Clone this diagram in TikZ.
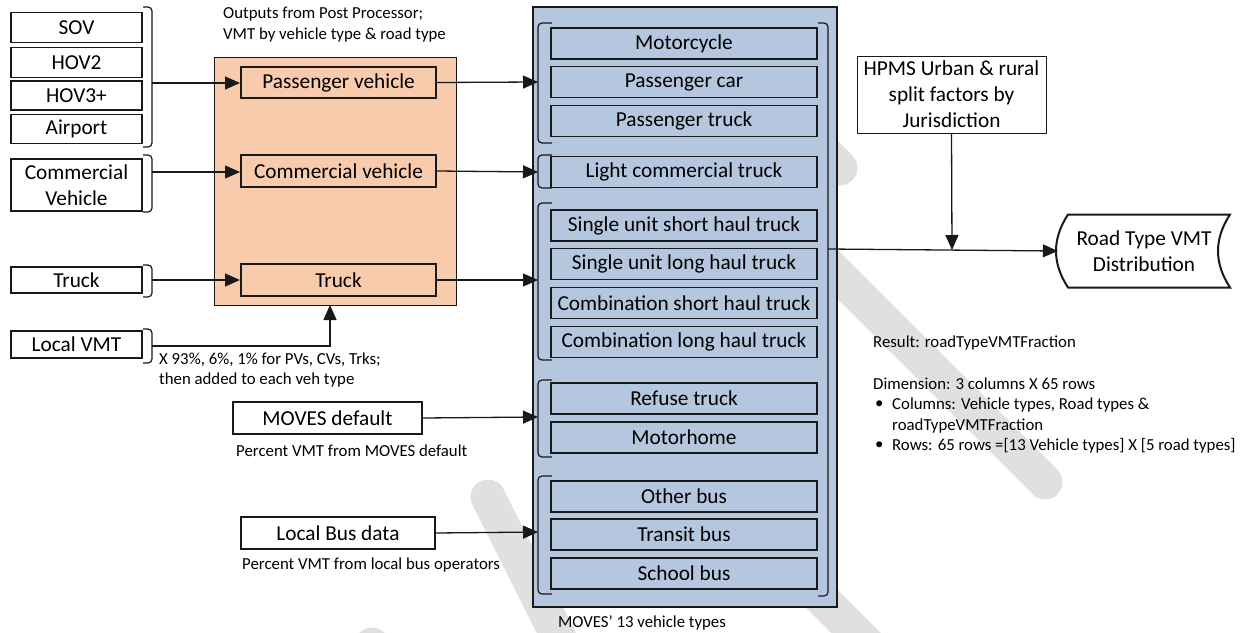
\documentclass[tikz,border=0pt]{standalone}
\usepackage{fontspec}
\setmainfont{Carlito}
\usetikzlibrary{arrows.meta}
\definecolor{peach}{RGB}{248,203,173}
\definecolor{bluefill}{RGB}{180,199,222}
\definecolor{wm}{RGB}{224,224,224}
\definecolor{edge}{RGB}{25,25,25}
\begin{document}
\begin{tikzpicture}[x=1pt,y=-1pt,
  bt/.style={font=\fontsize{21.3}{26}\selectfont},
  st/.style={font=\fontsize{16.8}{20.5}\selectfont, inner sep=0pt},
  lbox/.style={draw=edge, line width=1.2pt, inner sep=0pt, bt, align=center, fill=white},
  tbox/.style={lbox, line width=2pt},
  vbox/.style={lbox, fill=bluefill, minimum width=266pt, minimum height=31pt},
  arr/.style={-{Triangle[length=15pt,width=13pt]}, line width=1.3pt, draw=edge},
  brk/.style={line width=1.2pt, rounded corners=4pt, draw=edge}]
\useasboundingbox (0,0) rectangle (1253,632);
% watermark stripes
\begin{scope}
\clip (0,0) rectangle (1253,632);
\draw[wm, line width=35pt, line cap=round] (700,137) -- (1045,482);
\draw[wm, line width=35pt, line cap=round] (700,28) -- (840,168);
\draw[wm, line width=35pt, line cap=round] (700,477) -- (880,657);
\draw[wm, line width=35pt, line cap=round] (488,497) -- (580,680);
\draw[wm, line width=35pt, line cap=round] (372,645) -- (400,700);
\end{scope}
% left inputs
\node[lbox, minimum width=131pt, minimum height=30pt] (sov) at (76.5,27.5) {SOV};
\node[lbox, minimum width=131pt, minimum height=30pt] (hov2) at (76.5,62.5) {HOV2};
\node[lbox, minimum width=131pt, minimum height=29pt] (hov3) at (76.5,95.5) {HOV3+};
\node[lbox, minimum width=131pt, minimum height=29pt] (air) at (76.5,129) {Airport};
\node[lbox, minimum width=131pt, minimum height=52pt] (comm) at (76.5,185) {Commercial\\Vehicle};
\node[lbox, minimum width=131pt, minimum height=26pt] (truck) at (76.5,280) {Truck};
\node[lbox, minimum width=131pt, minimum height=27pt] (lvmt) at (76.5,344.5) {Local VMT};
\draw[brk] (143,7) -- (152,7) -- (152,147) -- (143,147);
\draw[brk] (143,155) -- (152,155) -- (152,212) -- (143,212);
\draw[brk] (143,265) -- (152,265) -- (152,297) -- (143,297);
\draw[brk] (143,329) -- (152,329) -- (152,363) -- (143,363);
\coordinate (b1) at (152,83);
\coordinate (b2) at (152,172);
\coordinate (b3) at (152,280);
\coordinate (b4) at (152,346);
% orange block
\node[draw=edge, line width=1pt, fill=peach, minimum width=242pt, minimum height=248pt, inner sep=0pt] (ob) at (335,181) {};
\node[tbox, fill=peach, minimum width=195pt, minimum height=31pt] (pv) at (338.5,82.5) {Passenger vehicle};
\node[tbox, fill=peach, minimum width=195pt, minimum height=32pt] (cv) at (338.5,171) {Commercial vehicle};
\node[tbox, fill=peach, minimum width=195pt, minimum height=32pt] (tr) at (338.5,280) {Truck};
\node[st, anchor=west, align=left] (outlbl) at (223,24.5) {Outputs from Post Processor;\\VMT by vehicle type \& road type};
\coordinate (up) at (330,305);
\draw[arr] (b1) -- (b1 -| pv.west);
\draw[arr] (b2) -- (b2 -| cv.west);
\draw[arr] (b3) -- (b3 -| tr.west);
\draw[arr] (b4) -| (up);
\node[st, anchor=west, align=left] (lvlbl) at (159,370) {X 93\%, 6\%, 1\% for PVs, CVs, Trks;\\then added to each veh type};
% other inputs
\node[tbox, minimum width=189pt, minimum height=32pt] (md) at (327.5,418) {MOVES default};
\node[st, anchor=west] (mdlbl) at (236,451) {Percent VMT from MOVES default};
\node[tbox, minimum width=194pt, minimum height=32pt] (lb) at (338,533) {Local Bus data};
\node[st, anchor=west] (lblbl) at (242,565) {Percent VMT from local bus operators};
% blue block
\node[draw=edge, line width=1.2pt, fill=bluefill, minimum width=304pt, minimum height=600pt, inner sep=0pt] (bb) at (685,307) {};
\node[vbox] (v1) at (684,43.5) {Motorcycle};
\node[vbox] (v2) at (684,82) {Passenger car};
\node[vbox] (v3) at (684,121) {Passenger truck};
\node[vbox] (v4) at (684,172) {Light commercial truck};
\node[vbox] (v5) at (684,225.5) {Single unit short haul truck};
\node[vbox] (v6) at (684,264) {Single unit long haul truck};
\node[vbox] (v7) at (684,303) {Combination short haul truck};
\node[vbox] (v8) at (684,342) {Combination long haul truck};
\node[vbox] (v9) at (684,398.5) {Refuse truck};
\node[vbox] (v10) at (684,437.5) {Motorhome};
\node[vbox] (v11) at (684,496.5) {Other bus};
\node[vbox] (v12) at (684,534.5) {Transit bus};
\node[vbox] (v13) at (684,573.5) {School bus};
\draw[brk] (552,23) -- (538,23) -- (538,143) -- (552,143);
\draw[brk] (552,155) -- (538,155) -- (538,188) -- (552,188);
\draw[brk] (552,203) -- (538,203) -- (538,360) -- (552,360);
\draw[brk] (552,380) -- (538,380) -- (538,457) -- (552,457);
\draw[brk] (552,476) -- (538,476) -- (538,594) -- (552,594);
\draw[brk] (818,23) -- (828,23) -- (828,596) -- (818,596);
\coordinate (g1) at (538,82);
\coordinate (g2) at (538,172);
\coordinate (g3) at (538,280);
\coordinate (g4) at (538,417);
\coordinate (g5) at (538,532);
\draw[arr] (pv.east) -- (g1);
\draw[arr] (cv.east) -- (g2);
\draw[arr] (tr.east) -- (g3);
\draw[arr] (md.east) -- (g4);
\draw[arr] (lb.east) -- (g5);
\node[st, anchor=center] (mvlbl) at (642,623) {MOVES’ 13 vehicle types};
% right side
\node[draw=edge, line width=1pt, fill=white, bt, align=center, minimum width=189pt, minimum height=77pt, inner sep=0pt] (hpms) at (951.5,94.5) {HPMS Urban \& rural\\split factors by\\Jurisdiction};
\node[bt, align=center, minimum width=172pt, minimum height=73pt, inner sep=0pt] (road) at (1144,251) {Road Type VMT\\Distribution};
\draw[edge, line width=2pt] (1068,214.5) -- (1230,214.5) .. controls (1214,239) and (1214,263) .. (1230,287.5) -- (1068,287.5) .. controls (1052,263) and (1052,239) .. (1068,214.5) -- cycle;
\coordinate (rb) at (828,249);
\coordinate (join) at (952,250);
\draw[arr] (rb) -- (road.west);
\draw[arr] (hpms.south) -- (join);
\node[st, anchor=west] (res) at (873,343) {Result: roadTypeVMTFraction};
\node[st, anchor=west] (dim) at (873,384) {Dimension: 3 columns X 65 rows};
\node[st, anchor=west] (bu1) at (875,405) {•};
\node[st, anchor=west, align=left] (col) at (892,415.5) {Columns: Vehicle types, Road types \&\\roadTypeVMTFraction};
\node[st, anchor=west] (bu2) at (875,446) {•};
\node[st, anchor=west] (rows) at (892,446) {Rows: 65 rows =[13 Vehicle types] X [5 road types]};
\end{tikzpicture}
\end{document}
